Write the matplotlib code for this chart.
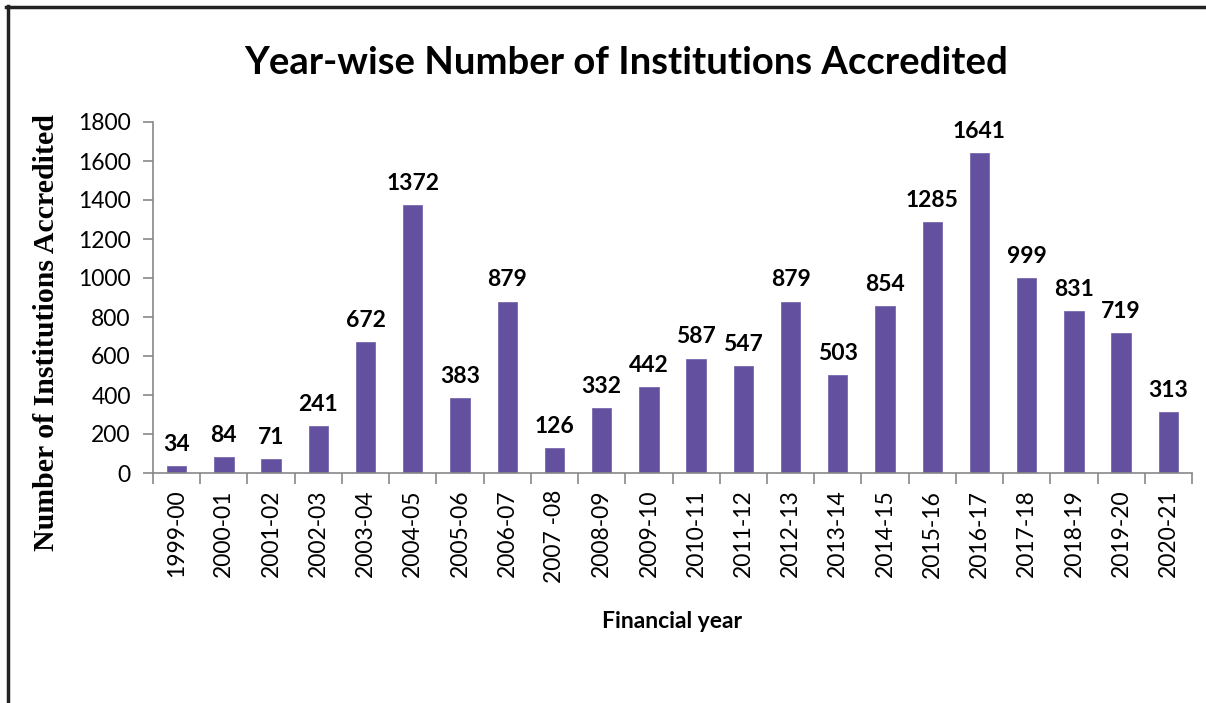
import matplotlib
matplotlib.use("Agg")
import matplotlib.pyplot as plt
from matplotlib.lines import Line2D
import numpy as np

years = ["1999-00", "2000-01", "2001-02", "2002-03", "2003-04", "2004-05", "2005-06",
         "2006-07", "2007 -08", "2008-09", "2009-10", "2010-11", "2011-12", "2012-13",
         "2013-14", "2014-15", "2015-16", "2016-17", "2017-18", "2018-19", "2019-20", "2020-21"]
counts = [34, 84, 71, 241, 672, 1372, 383, 879, 126, 332, 442, 587, 547, 879, 503,
          854, 1285, 1641, 999, 831, 719, 313]
yticks = [0, 200, 400, 600, 800, 1000, 1200, 1400, 1600, 1800]

W, H = 1206, 703
fig = plt.figure(figsize=(W / 100, H / 100), dpi=100)
ax = fig.add_axes([153 / W, 1 - 473 / H, (1192 - 153) / W, (473 - 122) / H])

x = np.arange(len(years))
ax.bar(x, counts, width=0.41, color="#63519F", edgecolor="#7a6ab0", linewidth=0.6)
for xi, v in zip(x, counts):
    ax.annotate(str(v), (xi, v), xytext=(0, 8), textcoords="offset points",
                ha="center", va="bottom", fontsize=16.5, fontweight="bold",
                family="Lato", color="black")

ax.set_xlim(-0.5, len(years) - 0.5)
ax.set_ylim(0, 1800)
ax.set_yticks(yticks)
ax.set_yticklabels([str(t) for t in yticks], family="Lato", fontsize=16.5)
ax.set_xticks(x)
ax.set_xticklabels(years, rotation=90, family="Lato", fontsize=16.5)
ax.set_xticks(np.arange(len(years) + 1) - 0.5, minor=True)
ax.tick_params(axis="x", which="major", length=0, pad=12)
ax.tick_params(axis="x", which="minor", length=8, color="#888888", width=1.2)
ax.tick_params(axis="y", length=7, color="#888888", width=1.2, pad=9)

for s in ["top", "right"]:
    ax.spines[s].set_visible(False)
for s in ["left", "bottom"]:
    ax.spines[s].set_color("#888888")
    ax.spines[s].set_linewidth(1.2)

ax.set_xlabel("Financial year", family="Lato", fontsize=16.5, fontweight="bold", labelpad=20)
ax.set_ylabel("Number of Institutions Accredited", family="Liberation Serif",
              fontsize=21.5, fontweight="bold")
ax.yaxis.set_label_coords(-0.0895, 0.40)

fig.text(626 / W, 1 - 63 / H, "Year-wise Number of Institutions Accredited",
         ha="center", va="center", family="Lato", fontsize=27.5, fontweight="bold")

fig.add_artist(Line2D([6 / W, 1], [1 - 7 / H, 1 - 7 / H], transform=fig.transFigure,
                      color="#222222", linewidth=2.5))
fig.add_artist(Line2D([8 / W, 8 / W], [1 - 6 / H, 0], transform=fig.transFigure,
                      color="#222222", linewidth=2.5))

fig.savefig("out.png", dpi=100)
